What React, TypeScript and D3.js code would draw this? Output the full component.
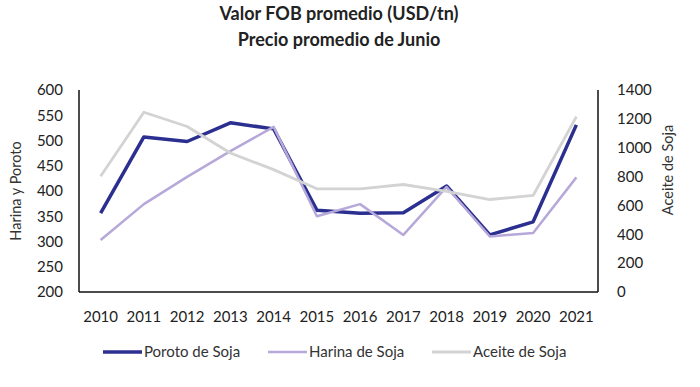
import * as d3 from "d3";

const years = ["2010", "2011", "2012", "2013", "2014", "2015", "2016", "2017", "2018", "2019", "2020", "2021"];
const poroto = [356, 507, 498, 535, 523, 362, 356, 357, 410, 313, 339, 531];
const harina = [303, 374, 428, 479, 527, 350, 374, 313, 408, 310, 317, 427];
const aceite = [802, 1246, 1147, 963, 848, 715, 715, 745, 698, 641, 669, 1216];
const leftTicks = [200, 250, 300, 350, 400, 450, 500, 550, 600];
const rightTicks = [0, 200, 400, 600, 800, 1000, 1200, 1400];

const font = "Lato, 'Open Sans', sans-serif";

export default function App() {
  const width = 700;
  const height = 387;
  const left = 79, right = 598, top = 90, bottom = 292;

  const x = d3.scaleBand().domain(years).range([left, right]);
  const cx = (d: string) => (x(d) ?? 0) + x.bandwidth() / 2;
  const yL = d3.scaleLinear().domain([200, 600]).range([bottom, top]);
  const yR = d3.scaleLinear().domain([0, 1400]).range([bottom, top]);

  const lineL = d3.line<number>().x((_, i) => cx(years[i])).y(d => yL(d));
  const lineR = d3.line<number>().x((_, i) => cx(years[i])).y(d => yR(d));

  const series = [
    { name: "Poroto de Soja", color: "#2b2f8f", w: 3.5, d: lineL(poroto) },
    { name: "Harina de Soja", color: "#b6a8d8", w: 2.5, d: lineL(harina) },
    { name: "Aceite de Soja", color: "#d3d3d3", w: 2.8, d: lineR(aceite) },
  ];
  const legendX = [103, 268, 432];

  return (
    <svg width={width} height={height} style={{ position: "absolute", left: 0, top: 0, background: "#fff" }}>
      <text x={339} y={20} textAnchor="middle" fontFamily={font} fontWeight="bold" fontSize={18} fill="#222">
        Valor FOB promedio (USD/tn)
      </text>
      <text x={339} y={46} textAnchor="middle" fontFamily={font} fontWeight="bold" fontSize={18} fill="#222">
        Precio promedio de Junio
      </text>

      {/* series first so axes sit on top */}
      {series.map(s => (
        <path key={s.name} d={s.d ?? ""} fill="none" stroke={s.color} strokeWidth={s.w} strokeLinejoin="round" />
      ))}

      <line x1={left} x2={left} y1={top} y2={bottom} stroke="#111" strokeWidth={1.5} />
      <line x1={right} x2={right} y1={top} y2={bottom} stroke="#111" strokeWidth={1.5} />
      <line x1={left} x2={right} y1={bottom} y2={bottom} stroke="#111" strokeWidth={1.5} />

      {leftTicks.map(t => (
        <text key={t} x={63} y={yL(t)} dy="0.35em" textAnchor="end" fontFamily={font} fontSize={15} fill="#222">{t}</text>
      ))}
      {rightTicks.map(t => (
        <text key={t} x={617} y={yR(t)} dy="0.35em" textAnchor="start" fontFamily={font} fontSize={15} fill="#222">{t}</text>
      ))}
      {years.map(yr => (
        <text key={yr} x={cx(yr)} y={322} textAnchor="middle" fontFamily={font} fontSize={15} fill="#222">{yr}</text>
      ))}

      <text transform="translate(21,191) rotate(-90)" textAnchor="middle" fontFamily={font} fontSize={14.5} fill="#333">Harina y Poroto</text>
      <text transform="translate(673,170) rotate(-90)" textAnchor="middle" fontFamily={font} fontSize={14.5} fill="#333">Aceite de Soja</text>

      {series.map((s, i) => (
        <g key={s.name}>
          <line x1={legendX[i]} x2={legendX[i] + 39} y1={352} y2={352} stroke={s.color} strokeWidth={s.w} />
          <text x={legendX[i] + 41} y={352} dy="0.35em" fontFamily={font} fontSize={15} fill="#333">{s.name}</text>
        </g>
      ))}
    </svg>
  );
}
